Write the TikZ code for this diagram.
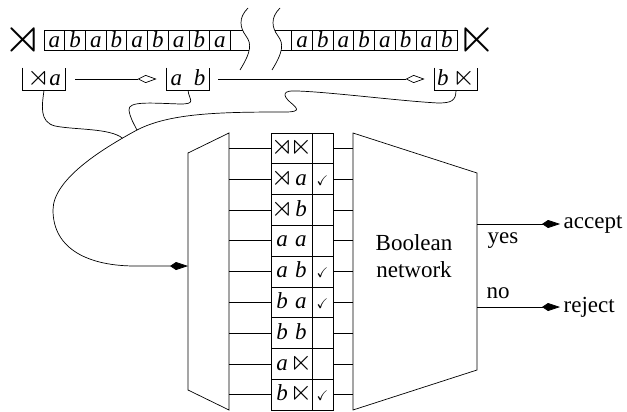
\documentclass[tikz,border=0pt]{standalone}
\usepackage{amssymb}
\usepackage{fontspec}
\setmainfont{Liberation Serif}
\usetikzlibrary{positioning, arrows.meta}
\newcommand{\lmk}{\scalebox{1.25}{$\rtimes$}}
\newcommand{\rmk}{\scalebox{1.25}{$\ltimes$}}
\newcommand{\ck}{{\fontsize{14}{14}\selectfont$\checkmark$}}
\newcommand{\two}[2]{\makebox[19pt]{#1}\makebox[19pt]{#2}}

\begin{document}
\begin{tikzpicture}[x=1pt, y=-1pt, line width=0.7pt, font=\fontsize{23}{27}\selectfont,
	cell/.style={draw, minimum width=20.7pt, minimum height=20pt, inner sep=0pt, outer sep=0pt, text height=16pt, text depth=0pt, font=\fontsize{23}{27}\selectfont\itshape},
	win/.style={minimum width=42pt, minimum height=22pt, inner sep=0pt, text height=12pt, text depth=0pt},
	pair/.style={draw, minimum width=41pt, minimum height=30.8pt, inner sep=0pt, outer sep=0pt, text height=12pt, text depth=0pt},
	chk/.style={draw, minimum width=21pt, minimum height=30.8pt, inner sep=0pt, outer sep=0pt, text height=12pt, text depth=0pt},
	openarrow/.style={-{Kite[open, length=19pt, width=8pt, inset=8pt]}},
	fillarrow/.style={-{Kite[length=18pt, width=8pt, inset=6pt]}}]
	\useasboundingbox (0,0) rectangle (627,412);

	% tape
	\node (lend) at (23,40) {\scalebox{1.75}{\lmk}};
	\node[cell] (ta1) at (54.35,40) {a};
	\node[cell, right=0pt of ta1] (ta2) {b};
	\node[cell, right=0pt of ta2] (ta3) {a};
	\node[cell, right=0pt of ta3] (ta4) {b};
	\node[cell, right=0pt of ta4] (ta5) {a};
	\node[cell, right=0pt of ta5] (ta6) {b};
	\node[cell, right=0pt of ta6] (ta7) {a};
	\node[cell, right=0pt of ta7] (ta8) {b};
	\node[cell, right=0pt of ta8] (ta9) {a};
	\draw (ta9.north east) -- (242.5,30);
	\draw (ta9.south east) -- (249,50);
	\draw (248,8) .. controls (238,18) and (240,28) .. (246,36) .. controls (252,44) and (251,52) .. (240,70);
	\draw[xshift=32pt] (248,8) .. controls (238,18) and (240,28) .. (246,36) .. controls (252,44) and (251,52) .. (240,70);
	\node[cell] (tb1) at (302.05,40) {a};
	\node[cell, right=0pt of tb1] (tb2) {b};
	\node[cell, right=0pt of tb2] (tb3) {a};
	\node[cell, right=0pt of tb3] (tb4) {b};
	\node[cell, right=0pt of tb4] (tb5) {a};
	\node[cell, right=0pt of tb5] (tb6) {b};
	\node[cell, right=0pt of tb6] (tb7) {a};
	\node[cell, right=0pt of tb7] (tb8) {b};
	\draw (274.5,30) -- (tb1.north west);
	\draw (281,50) -- (tb1.south west);
	\node (rend) at (477,40) {\scalebox{1.75}{\rmk}};

	% windows
	\node[win] (w1) at (44,79) {\lmk\textit{a}};
	\node[win] (w2) at (188,79) {\textit{a}\hspace{12pt}\textit{b}};
	\node[win] (w3) at (456,79) {\textit{b}\hspace{4pt}\rmk};
	\draw (w1.north west) -- (w1.south west) -- (w1.south east) -- (w1.north east);
	\draw (w2.north west) -- (w2.south west) -- (w2.south east) -- (w2.north east);
	\draw (w3.north west) -- (w3.south west) -- (w3.south east) -- (w3.north east);
	\draw[openarrow, shorten <=10pt, shorten >=10pt] (w1) -- (w2);
	\draw[openarrow, shorten <=9pt, shorten >=10pt] (w2) -- (w3);

	% selector
	\draw (188,153) -- (229,133) -- (229,410) -- (188,390) -- cycle;
	\coordinate (lt) at (229,133);
	\coordinate (muxin) at (188,266);
	\coordinate (j1) at (122.5,138.2);
	\coordinate (j2) at (137,130);
	\draw[fillarrow] (w3.south) .. controls (456,101) and (451,103) .. (438,103)
		.. controls (400,101) and (330,92) .. (297,91)
		.. controls (283,90) and (282,95) .. (290,102)
		.. controls (297,108) and (302,112) .. (285,112)
		.. controls (220,112) and (170,113) .. (j2)
		.. controls (100,150) and (53,180) .. (53,210)
		.. controls (53,250) and (90,266) .. (135,266) -- (muxin);
	\draw (w2.south) .. controls (189,100) and (197,104) .. (180,104) .. controls (150,103) and (128,101) .. (129,110) .. controls (130,118) and (134,124) .. (j2);
	\draw (w1.south) .. controls (42,105) and (39,122) .. (55,126) .. controls (75,130) and (110,128) .. (j1);

	% table
	\node[pair] (r1) at (291.5,148.4) {\two{\lmk}{\rmk}};
	\node[chk, right=0pt of r1] (c1) {};
	\node[pair, below=0pt of r1] (r2) {\two{\lmk}{\textit{a}}};
	\node[chk, right=0pt of r2] (c2) {\ck};
	\node[pair, below=0pt of r2] (r3) {\two{\lmk}{\textit{b}}};
	\node[chk, right=0pt of r3] (c3) {};
	\node[pair, below=0pt of r3] (r4) {\two{\textit{a}}{\textit{a}}};
	\node[chk, right=0pt of r4] (c4) {};
	\node[pair, below=0pt of r4] (r5) {\two{\textit{a}}{\textit{b}}};
	\node[chk, right=0pt of r5] (c5) {\ck};
	\node[pair, below=0pt of r5] (r6) {\two{\textit{b}}{\textit{a}}};
	\node[chk, right=0pt of r6] (c6) {\ck};
	\node[pair, below=0pt of r6] (r7) {\two{\textit{b}}{\textit{b}}};
	\node[chk, right=0pt of r7] (c7) {};
	\node[pair, below=0pt of r7] (r8) {\two{\textit{a}}{\rmk}};
	\node[chk, right=0pt of r8] (c8) {};
	\node[pair, below=0pt of r8] (r9) {\two{\textit{b}}{\rmk}};
	\node[chk, right=0pt of r9] (c9) {\ck};

	% network
	\draw (353,133) -- (477,173) -- (477,370) -- (353,410) -- cycle;
	\coordinate (nt) at (353,133);
	\coordinate (nr) at (477,173);
	\node[align=center] (net) at (414,256) {Boolean\\network};

	\draw (r1.west) -- (r1.west -| lt);
	\draw (r2.west) -- (r2.west -| lt);
	\draw (r3.west) -- (r3.west -| lt);
	\draw (r4.west) -- (r4.west -| lt);
	\draw (r5.west) -- (r5.west -| lt);
	\draw (r6.west) -- (r6.west -| lt);
	\draw (r7.west) -- (r7.west -| lt);
	\draw (r8.west) -- (r8.west -| lt);
	\draw (r9.west) -- (r9.west -| lt);
	\draw (c1.east) -- (c1.east -| nt);
	\draw (c2.east) -- (c2.east -| nt);
	\draw (c3.east) -- (c3.east -| nt);
	\draw (c4.east) -- (c4.east -| nt);
	\draw (c5.east) -- (c5.east -| nt);
	\draw (c6.east) -- (c6.east -| nt);
	\draw (c7.east) -- (c7.east -| nt);
	\draw (c8.east) -- (c8.east -| nt);
	\draw (c9.east) -- (c9.east -| nt);

	% outputs
	\node[anchor=west] (accept) at (560,224) {accept};
	\node[anchor=west] (reject) at (560,307) {reject};
	\draw[fillarrow] (accept.west -| nr) -- (accept.west);
	\draw[fillarrow] (reject.west -| nr) -- (reject.west);
	\node (yes) at (503,241) {yes};
	\node (no) at (498,293) {no};
\end{tikzpicture}
\end{document}
